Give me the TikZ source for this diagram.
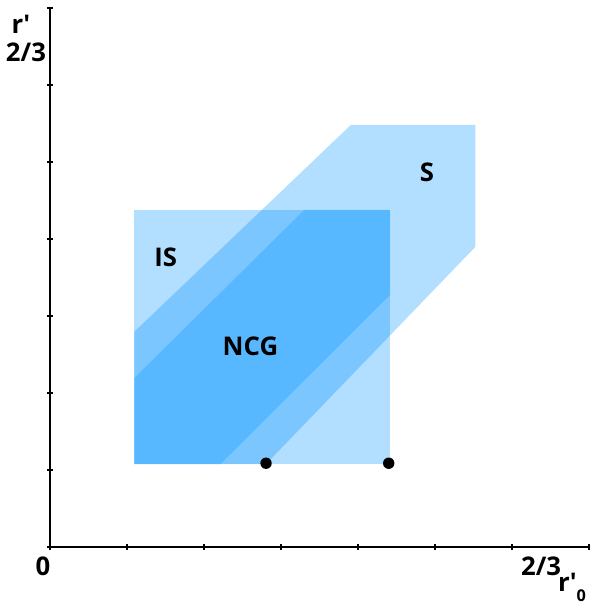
\documentclass[tikz,border=0pt]{standalone}
\usepackage{fontspec}
\setmainfont{Open Sans}
\usetikzlibrary{positioning}
\definecolor{areablue}{RGB}{0,145,255}

\begin{document}
\begin{tikzpicture}[
    region/.style={fill=areablue, fill opacity=0.3},
    lbl/.style={font=\bfseries\fontsize{9.5}{11}\selectfont, inner sep=0pt},
    axis/.style={line width=0.55pt},
  ]
  \useasboundingbox (-0.648,-0.714) rectangle (7.021,7.104);
  % Regions
  \fill[region] (1.097,1.078) rectangle (4.417,4.377);
  \fill[region] (1.097,1.078) -- (1.097,2.796) -- (3.908,5.481) -- (5.527,5.481)
    -- (5.527,3.9) -- (2.807,1.078) -- cycle;
  \fill[region] (1.097,1.078) -- (1.097,2.195) -- (3.303,4.377) -- (4.417,4.377)
    -- (4.417,3.273) -- (2.215,1.078) -- cycle;
  % Axes
  \draw[axis] (0,7) -- (0,0) -- (7,0);
  \foreach \i in {0,...,7} {
    \draw[axis] (\i,-0.04) -- (\i,0.04);
    \draw[axis] (-0.04,\i) -- (0.04,\i);
  }
  % Points
  \coordinate (p1) at (2.807,1.088);
  \coordinate (p2) at (4.40,1.088);
  \fill (p1) circle (0.074);
  \fill (p2) circle (0.074);
  % Labels
  \node[lbl] (is) at (1.503,3.766) {IS};
  \node[lbl] (ncg) at (2.604,2.610) {NCG};
  \node[lbl] (s) at (4.896,4.870) {S};
  \node[lbl] (ry) at (-0.376,6.792) {r\textquotesingle};
  \node[lbl] (ymax) at (-0.311,6.429) {2/3};
  \node[lbl] (orig) at (-0.091,-0.247) {0};
  \node[lbl] (xmax) at (6.38,-0.247) {2/3};
  \node[lbl] (rx) at (6.78,-0.53) {r\textquotesingle\raisebox{-3.7pt}{\fontsize{6}{6}\selectfont 0}};
\end{tikzpicture}
\end{document}
